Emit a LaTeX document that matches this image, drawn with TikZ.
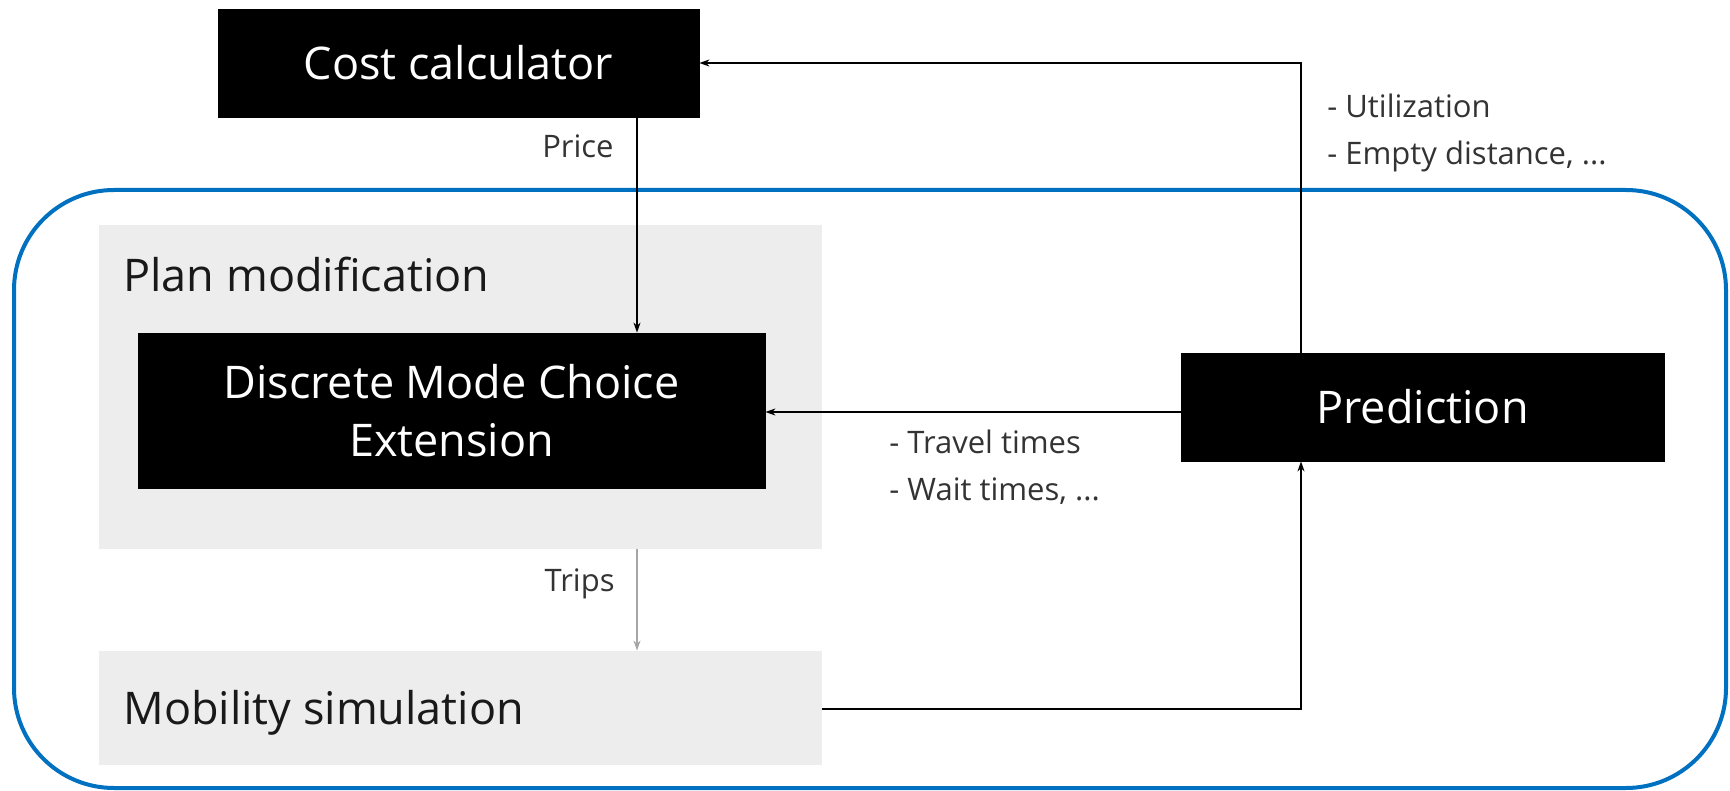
\documentclass[tikz,border=0pt]{standalone}
\usepackage{fontspec}
\setmainfont{Open Sans}
\usetikzlibrary{arrows.meta}
\definecolor{bluebox}{HTML}{0070C0}
\definecolor{graybox}{HTML}{EDEDED}
\definecolor{labelc}{HTML}{333333}
\definecolor{tripc}{HTML}{A6A6A6}
\tikzset{
  blackbox/.style={draw=black,fill=black,text=white,inner sep=0pt,align=center,font=\fontsize{22.5}{29}\selectfont},
  graypanel/.style={fill=graybox,draw=none,inner sep=0pt},
  paneltitle/.style={anchor=base west,inner sep=0pt,text=black!90,font=\fontsize{22.5}{27}\selectfont},
  smalllabel/.style={inner sep=0pt,text=labelc,font=\fontsize{15.5}{18}\selectfont},
  arr/.style={line width=0.7pt,draw=black,-{Stealth[length=5pt,width=3.5pt]}},
}
\begin{document}
\begin{tikzpicture}[x=0.5pt,y=-0.5pt]
\useasboundingbox (0,0) rectangle (1730,791);
% outer blue frame
\draw[bluebox,line width=2pt,rounded corners=50pt] (14,190) rectangle (1726,788);
% gray panels
\node[graypanel,minimum width=361.5pt,minimum height=162pt] (plan) at (460.5,387) {};
\node[graypanel,minimum width=361.5pt,minimum height=57pt] (mob) at (460.5,708) {};
\node[paneltitle] (plantitle) at (123,292) {Plan modification};
\node[paneltitle] (mobtitle) at (123,724) {Mobility simulation};
% black boxes
\node[blackbox,minimum width=240.5pt,minimum height=54pt] (cost) at (458.5,63) {Cost calculator};
\node[blackbox,minimum width=313.5pt,minimum height=77.5pt] (dmc) at (451.5,410.5) {Discrete Mode Choice\\Extension};
\node[blackbox,minimum width=241.5pt,minimum height=54pt] (pred) at (1422.5,407) {Prediction};
% helper coordinates
\coordinate (px) at (637,0);
\coordinate (vx) at (1301,0);
\coordinate (ty) at (0,412);
\coordinate (my) at (0,709);
% connectors
\draw[arr] (cost.south -| px) -- (dmc.north -| px);
\draw[arr,draw=tripc,tripc] (plan.south -| px) -- (mob.north -| px);
\draw[arr] (pred.west |- ty) -- (dmc.east |- ty);
\draw[arr] (mob.east |- my) -| (pred.south -| vx);
\draw[arr] (pred.north -| vx) |- (cost.east);
% labels
\node[smalllabel,anchor=base east] (lprice) at (614,158) {Price};
\node[smalllabel,anchor=base east] (ltrips) at (615,591) {Trips};
\node[smalllabel,anchor=base west] (lutil) at (1327,118) {- Utilization};
\node[smalllabel,anchor=base west] (lempty) at (1327,165) {- Empty distance, ...};
\node[smalllabel,anchor=base west] (ltravel) at (889,453) {- Travel times};
\node[smalllabel,anchor=base west] (lwait) at (889,500) {- Wait times, ...};
\end{tikzpicture}
\end{document}
